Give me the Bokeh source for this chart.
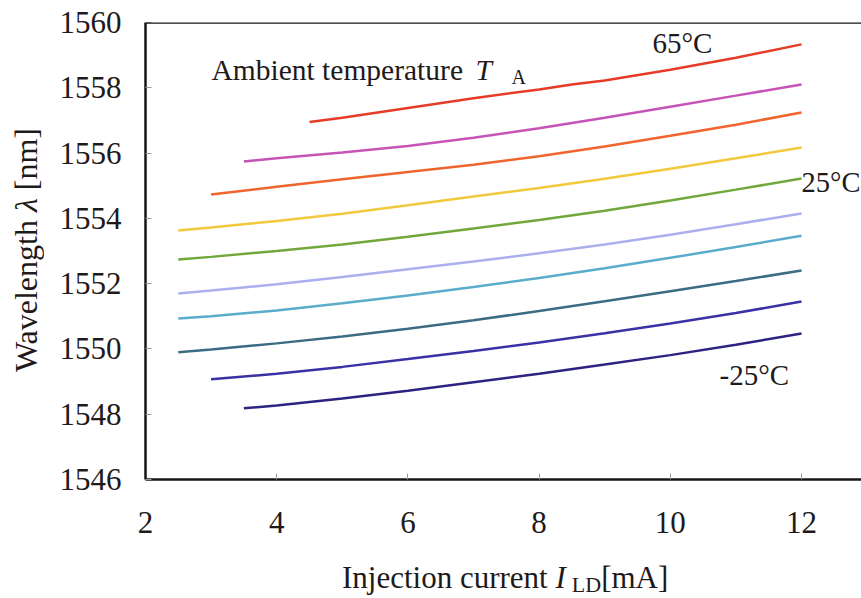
from bokeh.plotting import figure
from bokeh.models import Label, Span, FixedTicker, Range1d, Div
from bokeh.layouts import row, column
from bokeh.embed import file_html
from bokeh.resources import INLINE

# ---- data ----
temps = [65, 55, 45, 35, 25, 15, 5, -5, -15, -25]

i_65 = [4.5, 5, 6, 7, 8, 8.5, 9, 10, 11, 12]
wl_65 = [1556.95, 1557.08, 1557.38, 1557.68, 1557.95, 1558.1, 1558.22, 1558.55, 1558.92, 1559.33]

i_55 = [3.5, 4, 5, 6, 7, 8, 9, 10, 11, 12]
wl_55 = [1555.74, 1555.84, 1556.02, 1556.22, 1556.47, 1556.76, 1557.08, 1557.42, 1557.76, 1558.1]

i_45 = [3, 4, 5, 6, 7, 8, 9, 10, 11, 12]
wl_45 = [1554.73, 1554.97, 1555.2, 1555.42, 1555.64, 1555.9, 1556.2, 1556.53, 1556.87, 1557.24]

i_35 = [2.5, 3, 4, 5, 6, 7, 8, 9, 10, 11, 12]
wl_35 = [1553.63, 1553.72, 1553.92, 1554.14, 1554.4, 1554.67, 1554.93, 1555.21, 1555.52, 1555.84, 1556.17]

i_25 = [2.5, 3, 4, 5, 6, 7, 8, 9, 10, 11, 12]
wl_25 = [1552.74, 1552.82, 1553.0, 1553.2, 1553.44, 1553.69, 1553.95, 1554.23, 1554.55, 1554.88, 1555.22]

i_15 = [2.5, 3, 4, 5, 6, 7, 8, 9, 10, 11, 12]
wl_15 = [1551.7, 1551.79, 1551.98, 1552.2, 1552.44, 1552.68, 1552.93, 1553.2, 1553.5, 1553.82, 1554.15]

i_5 = [2.5, 3, 4, 5, 6, 7, 8, 9, 10, 11, 12]
wl_5 = [1550.93, 1551.0, 1551.18, 1551.4, 1551.64, 1551.9, 1552.17, 1552.47, 1552.79, 1553.12, 1553.47]

i_m5 = [2.5, 3, 4, 5, 6, 7, 8, 9, 10, 11, 12]
wl_m5 = [1549.9, 1549.98, 1550.17, 1550.38, 1550.62, 1550.88, 1551.16, 1551.46, 1551.77, 1552.08, 1552.4]

i_m15 = [3, 4, 5, 6, 7, 8, 9, 10, 11, 12]
wl_m15 = [1549.07, 1549.24, 1549.45, 1549.69, 1549.94, 1550.2, 1550.48, 1550.78, 1551.1, 1551.45]

i_m25 = [3.5, 4, 5, 6, 7, 8, 9, 10, 11, 12]
wl_m25 = [1548.18, 1548.27, 1548.48, 1548.72, 1548.98, 1549.24, 1549.52, 1549.81, 1550.13, 1550.47]

currents = [i_65, i_55, i_45, i_35, i_25, i_15, i_5, i_m5, i_m15, i_m25]
wavelengths = [wl_65, wl_55, wl_45, wl_35, wl_25, wl_15, wl_5, wl_m5, wl_m15, wl_m25]
colors = ["#e63b26", "#c653b6", "#f0642e", "#f2c83d", "#70a83c",
          "#aab0ee", "#5aaccc", "#3c6b84", "#3b31a6", "#2c2382"]

x_ticks = [2, 4, 6, 8, 10, 12]
y_ticks = [1546, 1548, 1550, 1552, 1554, 1556, 1558, 1560]

# ---- layout (page pixels) ----
PAGE_W, PAGE_H = 861, 598
YT_W = 50                      # width of the y-title column
FRAME_L, FRAME_T, FRAME_B = 145, 22, 479
PX_X = 65.6                    # pixels per mA
P_H = 555                      # plot height
XT_H = PAGE_H - P_H            # x-title row height

P_W = PAGE_W - YT_W
ML = FRAME_L - YT_W
MT = FRAME_T
MB = P_H - FRAME_B
PX_Y = (FRAME_B - FRAME_T) / 14.0
x_end = 2 + (P_W - ML) / PX_X

def dx(px):
    return 2 + (px - FRAME_L) / PX_X

def dy(py):
    return 1560 - (py - FRAME_T) / PX_Y

SERIF = "Liberation Serif"
INK = "#1e1a1a"

p = figure(width=P_W, height=P_H, output_backend="svg", toolbar_location=None,
           x_range=Range1d(2, x_end), y_range=Range1d(1546, 1560),
           min_border_left=ML, min_border_right=0, min_border_top=MT,
           min_border_bottom=MB, background_fill_color="white",
           border_fill_color="white", margin=0)
p.outline_line_color = None
p.grid.visible = False

for ax, ticks in ((p.xaxis[0], x_ticks), (p.yaxis[0], y_ticks)):
    ax.ticker = FixedTicker(ticks=ticks)
    ax.axis_line_width = 2.5
    ax.axis_line_color = "#1a1414"
    ax.major_tick_in = 6
    ax.major_tick_out = 0
    ax.major_tick_line_color = "#9a9a9a"
    ax.major_tick_line_width = 1
    ax.minor_tick_line_color = None
    ax.major_label_text_font = SERIF
    ax.major_label_text_font_size = "31px"
    ax.major_label_text_color = INK
    ax.axis_label = None

p.xaxis[0].major_label_standoff = 32
p.yaxis[0].major_label_standoff = 24

p.add_layout(Span(location=1560, dimension="width", line_color="#1a1414", line_width=2.5))

for xs, ys, c in zip(currents, wavelengths, colors):
    p.line(xs, ys, line_color=c, line_width=2.5)

LBL_SHIFT = -11   # Label baseline correction (px)

def lab(text, px, py, size="29px", style="normal"):
    p.add_layout(Label(x=dx(px), y=dy(py + LBL_SHIFT), text=text, text_font=SERIF,
                       text_font_size=size, text_font_style=style,
                       text_color=INK, text_align="left",
                       text_baseline="alphabetic"))

# annotations inside the plot
lab("Ambient temperature", 211, 80, size="29.5px")
lab("T", 475, 80, size="29.5px", style="italic")
lab("A", 511, 87, size="20px")
lab("65°C", 652, 53)
lab("25°C", 801, 193, size="28.5px")
lab("-25°C", 719, 385)

# axis titles as HTML text (mixed italic / subscript)
x_title = Div(
    width=P_W, height=XT_H, margin=0,
    text=("<div style=\"font-family:'Liberation Serif';font-size:31px;line-height:31px;"
          "padding:7px 0 0 %dpx;white-space:nowrap;color:%s\">"
          "Injection current <i>I</i>"
          "<span style=\"font-size:22px;margin-left:6px;position:relative;top:4px\">LD</span>"
          "[mA]</div>") % (342 - YT_W, INK))

y_title = Div(
    width=YT_W, height=P_H, margin=0,
    text=("<div style=\"position:relative;width:%dpx;height:%dpx\">"
          "<div style=\"position:absolute;left:10px;top:128px;writing-mode:vertical-rl;"
          "transform:rotate(180deg);font-family:'Liberation Serif';font-size:32px;"
          "line-height:32px;white-space:nowrap;color:%s\">"
          "Wavelength <i>λ</i> [nm]</div></div>") % (YT_W, P_H, INK))

layout = row(y_title, column(p, x_title, spacing=0, margin=0), spacing=0, margin=0)

open("out.html", "w").write(file_html(layout, INLINE))
